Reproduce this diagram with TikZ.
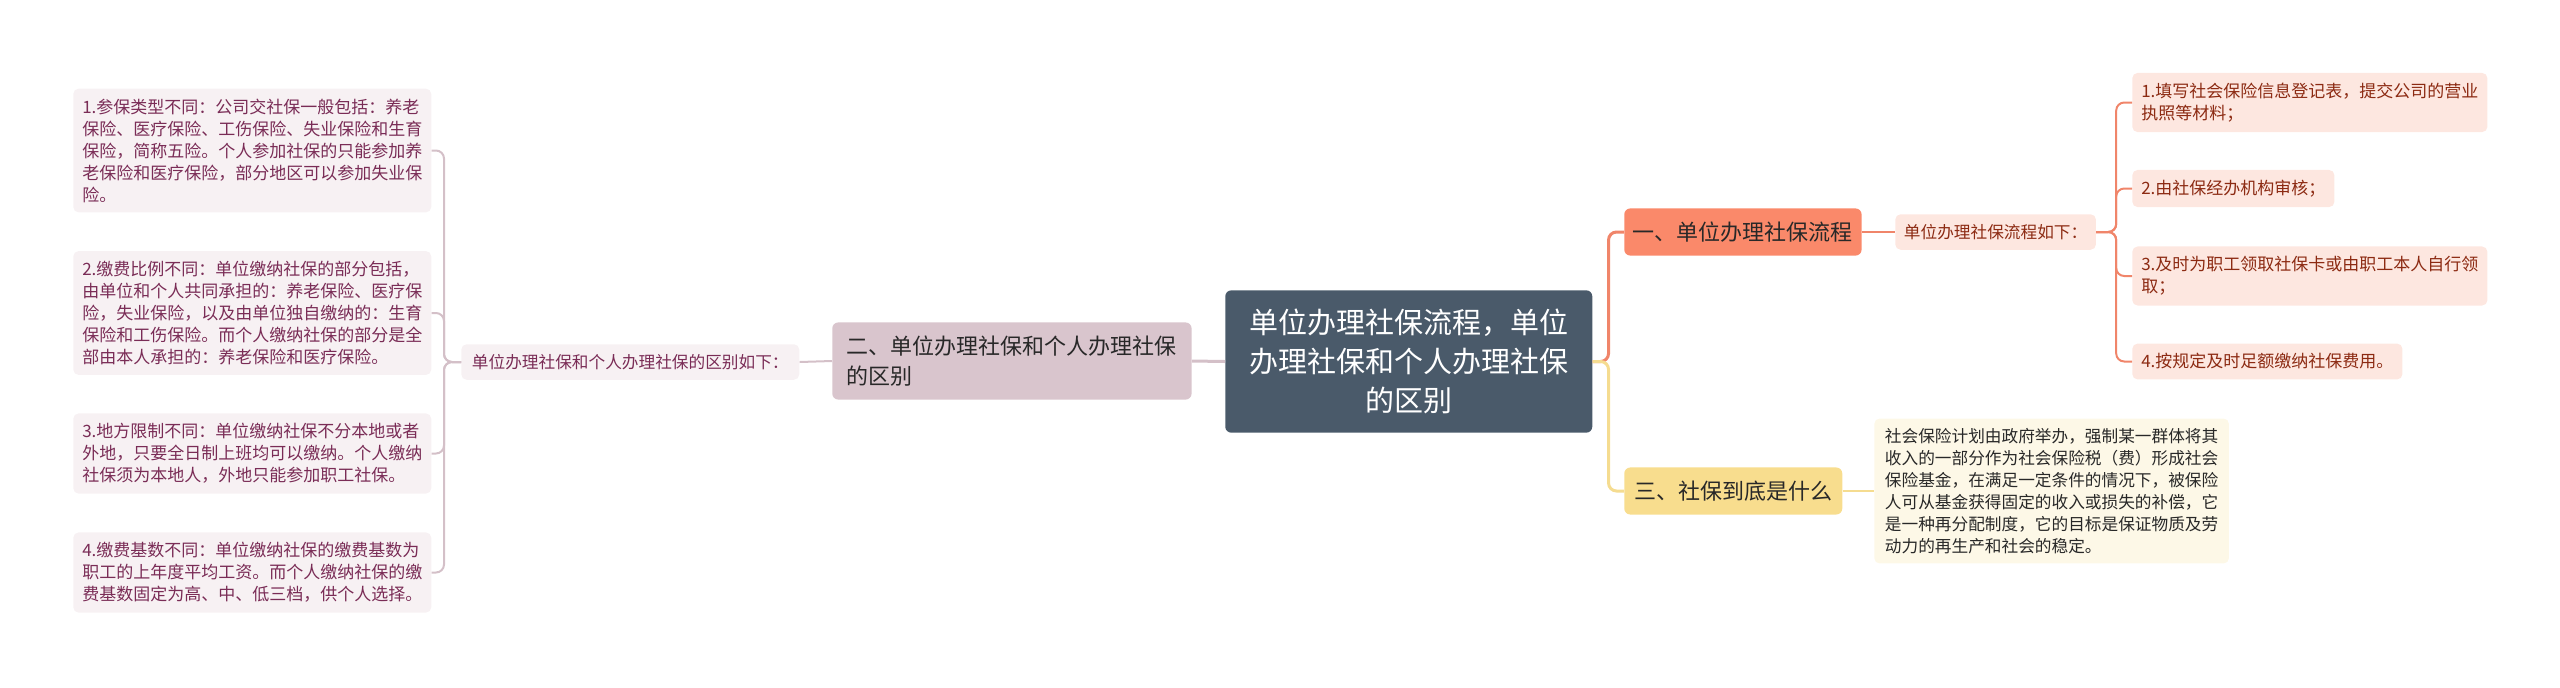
\documentclass[tikz,border=0pt]{standalone}
\usepackage{fontspec}
\setmainfont{Noto Sans CJK SC}
\usepackage{tikz}
\usetikzlibrary{positioning}
\usepackage{xcolor}

\definecolor{rootfill}{RGB}{74,90,106}
\definecolor{onefill}{RGB}{250,137,106}
\definecolor{twofill}{RGB}{217,197,205}
\definecolor{threefill}{RGB}{248,221,142}
\definecolor{onesub}{RGB}{253,231,224}
\definecolor{onetext}{RGB}{140,42,18}
\definecolor{twosub}{RGB}{247,241,243}
\definecolor{twotext}{RGB}{122,44,86}
\definecolor{threesub}{RGB}{253,248,231}
\definecolor{darktext}{RGB}{40,40,40}
\definecolor{oneline}{RGB}{240,133,106}
\definecolor{twoline}{RGB}{212,192,200}
\definecolor{threeline}{RGB}{245,220,144}

\tikzset{
  rootbox/.style={fill=rootfill, text=white, rounded corners=4.5pt, align=center,
    inner xsep=18pt, inner ysep=14pt, font=\fontsize{21.75}{29.25}\selectfont},
  topicbox/.style={rounded corners=4.5pt, align=left, text=darktext,
    inner xsep=7pt, inner ysep=10pt, font=\fontsize{16.5}{22.5}\selectfont},
  subbox/.style={rounded corners=4pt, align=left, inner xsep=7pt, inner ysep=7.5pt,
    font=\fontsize{12.5}{16.5}\selectfont},
  itembox/.style={rounded corners=4pt, align=left, inner xsep=6.75pt, inner ysep=7.5pt,
    font=\fontsize{12.75}{16.5}\selectfont},
  mainlink/.style={line width=2.25pt, rounded corners=6pt},
  sublink/.style={line width=1.5pt, rounded corners=6pt},
}

\begin{document}
\begin{tikzpicture}[x=0.75pt,y=0.75pt,yscale=-1,xscale=1]
\useasboundingbox (0,0) rectangle (2560,687);

% Text Node
\draw (1225,361.5) node [rootbox, anchor=west] (root) {单位办理社保流程，单位\\办理社保和个人办理社保\\的区别};
% Text Node
\draw (832,361) node [topicbox, fill=twofill, anchor=west, inner xsep=11pt] (two) {二、单位办理社保和个人办理社保\\的区别};
% Text Node
\draw (461,362) node [subbox, fill=twosub, text=twotext, anchor=west, inner xsep=8pt] (twoall) {单位办理社保和个人办理社保的区别如下：};
% Text Node
\draw (73,150.5) node [itembox, fill=twosub, text=twotext, anchor=west] (diffa) {1.参保类型不同：公司交社保一般包括：养老\\保险、医疗保险、工伤保险、失业保险和生育\\保险，简称五险。个人参加社保的只能参加养\\老保险和医疗保险，部分地区可以参加失业保\\险。};
% Text Node
\draw (73,313) node [itembox, fill=twosub, text=twotext, anchor=west] (diffb) {2.缴费比例不同：单位缴纳社保的部分包括，\\由单位和个人共同承担的：养老保险、医疗保\\险，失业保险，以及由单位独自缴纳的：生育\\保险和工伤保险。而个人缴纳社保的部分是全\\部由本人承担的：养老保险和医疗保险。};
% Text Node
\draw (73,453.5) node [itembox, fill=twosub, text=twotext, anchor=west] (diffc) {3.地方限制不同：单位缴纳社保不分本地或者\\外地，只要全日制上班均可以缴纳。个人缴纳\\社保须为本地人，外地只能参加职工社保。};
% Text Node
\draw (73,572.5) node [itembox, fill=twosub, text=twotext, anchor=west] (diffd) {4.缴费基数不同：单位缴纳社保的缴费基数为\\职工的上年度平均工资。而个人缴纳社保的缴\\费基数固定为高、中、低三档，供个人选择。};

% Text Node
\draw (1624,232) node [topicbox, fill=onefill, anchor=west, inner xsep=6.5pt] (one) {一、单位办理社保流程};
% Text Node
\draw (1895,232) node [subbox, fill=onesub, text=onetext, anchor=west, inner xsep=6.5pt] (oneall) {单位办理社保流程如下：};
% Text Node
\draw (2132,102.5) node [itembox, fill=onesub, text=onetext, anchor=west] (stepa) {1.填写社会保险信息登记表，提交公司的营业\\执照等材料；};
% Text Node
\draw (2132,188.5) node [itembox, fill=onesub, text=onetext, anchor=west] (stepb) {2.由社保经办机构审核；};
% Text Node
\draw (2132,276) node [itembox, fill=onesub, text=onetext, anchor=west] (stepc) {3.及时为职工领取社保卡或由职工本人自行领\\取；};
% Text Node
\draw (2132,361.5) node [itembox, fill=onesub, text=onetext, anchor=west] (stepd) {4.按规定及时足额缴纳社保费用。};

% Text Node
\draw (1624,491) node [topicbox, fill=threefill, anchor=west, inner xsep=7.5pt] (three) {三、社保到底是什么};
% Text Node
\draw (1874,491) node [subbox, fill=threesub, text=darktext, anchor=west, inner xsep=8pt, inner ysep=7.25pt] (whatis) {社会保险计划由政府举办，强制某一群体将其\\收入的一部分作为社会保险税（费）形成社会\\保险基金，在满足一定条件的情况下，被保险\\人可从基金获得固定的收入或损失的补偿，它\\是一种再分配制度，它的目标是保证物质及劳\\动力的再生产和社会的稳定。};

%Straight Lines
\draw [mainlink, twoline] (root.west) -- (two.east) ;
\draw [sublink, twoline] (two.west) -- (twoall.east) ;
%Curve Lines
\draw [sublink, twoline] (twoall.west) -- ++(-17,0) |- (diffa.east) ;
\draw [sublink, twoline] (twoall.west) -- ++(-17,0) |- (diffb.east) ;
\draw [sublink, twoline] (twoall.west) -- ++(-17,0) |- (diffc.east) ;
\draw [sublink, twoline] (twoall.west) -- ++(-17,0) |- (diffd.east) ;

%Curve Lines
\draw [mainlink, oneline] (root.east) -- ++(16,0) |- (one.west) ;
\draw [mainlink, threeline] (root.east) -- ++(16,0) |- (three.west) ;
%Straight Lines
\draw [sublink, oneline] (one.east) -- (oneall.west) ;
\draw [sublink, threeline] (three.east) -- (whatis.west) ;
%Curve Lines
\draw [sublink, oneline] (oneall.east) -- ++(20,0) |- (stepa.west) ;
\draw [sublink, oneline] (oneall.east) -- ++(20,0) |- (stepb.west) ;
\draw [sublink, oneline] (oneall.east) -- ++(20,0) |- (stepc.west) ;
\draw [sublink, oneline] (oneall.east) -- ++(20,0) |- (stepd.west) ;
\end{tikzpicture}
\end{document}
